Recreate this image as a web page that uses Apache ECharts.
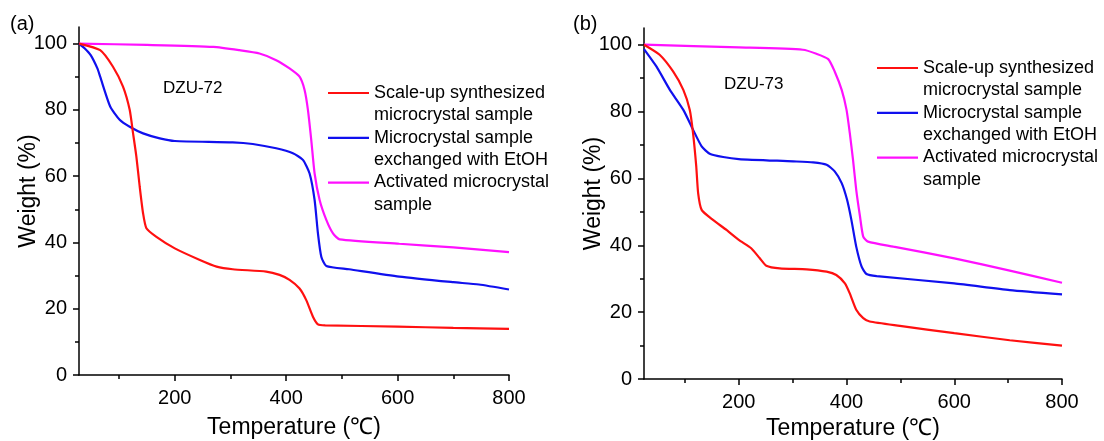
<!DOCTYPE html>
<html>
<head>
<meta charset="utf-8">
<script src="https://cdn.jsdelivr.net/npm/echarts@6/dist/echarts.min.js"></script>
<style>html,body{margin:0;padding:0;background:#fff}#c{width:1104px;height:441px}</style>
</head>
<body>
<div id="c"></div>
<script>
var seriesNames = ['Scale-up synthesized\nmicrocrystal sample', 'Microcrystal sample\nexchanged with EtOH', 'Activated microcrystal\nsample'];
var seriesColors = ['#ff1010', '#1010ee', '#ff10ff'];
var panelLabels = ['(a)', '(b)'];
var sampleLabels = ['DZU-72', 'DZU-73'];
var xLabelValues = [200, 400, 600, 800];
var xMinorValues = [100, 300, 500, 700];
var yLabelValues = [0, 20, 40, 60, 80, 100];
var yMinorValues = [10, 30, 50, 70, 90];

// Panel (a) DZU-72
var redA = [[28,100],[66,98],[89,93],[107,87],[119,80],[125,73],[131,65.9],[137,56.8],[143,48.8],[149,44.3],[167,41.7],[200,38.2],[245,34.7],[275,32.7],[304,31.9],[364,31.2],[388,30.2],[406,28.7],[424,26.1],[436,22.6],[448,17.6],[457,15.3],[470,15.0],[600,14.6],[700,14.2],[800,13.9]];
var blueA = [[28,100],[38,98.6],[49,96.5],[61,92.5],[66,90],[84,81],[101,77],[119,74.9],[143,72.9],[173,71.4],[200,70.6],[304,70.2],[340,69.7],[382,68.4],[412,66.9],[430,64.9],[442,60.8],[451,52.8],[457,42.7],[463,35.7],[472,32.9],[513,31.9],[603,29.7],[700,28.0],[746,27.3],[800,25.8]];
var magentaA = [[28,100],[150,99.6],[269,99],[316,98],[352,97],[382,95],[406,92.5],[424,90],[433,86],[439,80],[445,70.9],[451,60.8],[460,52.8],[472,46.8],[484,42.7],[496,40.9],[603,39.6],[700,38.5],[800,37.1]];

// Panel (b) DZU-73
var redB = [[24,100],[53,97],[78,92],[97,86.5],[109,80.5],[115,73.6],[121,63.6],[124.5,55.6],[131,50.6],[152,47.6],[177,44.6],[200,41.6],[223,39.1],[239,36.1],[251,33.9],[276,33.1],[326,32.8],[363,32.1],[381,31.1],[397,28.6],[406,25.6],[418,20.7],[431,18.2],[443,17.2],[499,15.9],[600,13.7],[703,11.6],[800,10.0]];
var blueB = [[24,98.7],[47,93.5],[72,86.5],[97,80.5],[115,74.6],[131,69.6],[146,67.4],[171,66.4],[200,65.8],[301,65.1],[338,64.8],[363,64.1],[378,62.1],[391,58.6],[401,53.6],[409,47.6],[418,39.6],[428,33.6],[437,31.4],[456,30.8],[600,28.6],[703,26.6],[800,25.3]];
var magentaB = [[24,100],[200,99.2],[319,98.5],[344,97.3],[366,95.7],[378,92],[391,86.5],[400,80.5],[406,73.6],[412,65.6],[418,56.6],[425,48.6],[431,42.6],[440,41.1],[487,39.6],[600,36.1],[703,32.4],[800,28.8]];

var panels = [
  {grid:{left:79, top:27, width:430, height:348, outerBoundsMode:'none', containLabel:false}, data:[redA, blueA, magentaA], xmin:28, xNameGap:41,
   legendX:328, legendY:93, labelPos:[10,14], samplePos:[163,80]},
  {grid:{left:644, top:28, width:418, height:351, outerBoundsMode:'none', containLabel:false}, data:[redB, blueB, magentaB], xmin:24, xNameGap:38,
   legendX:877, legendY:68, labelPos:[573,14], samplePos:[724,76]}
];

var FONT = 'Liberation Sans, Arial, Helvetica, sans-serif';
var grids = [], xAxes = [], yAxes = [], series = [], graphics = [];

panels.forEach(function(p, pi){
  grids.push(p.grid);
  var axisLine = {show:true, lineStyle:{color:'#000', width:1.5}};
  xAxes.push({type:'value', gridIndex:pi, min:p.xmin, max:800, position:'bottom',
    name:'Temperature (\u2103)', nameLocation:'middle', nameGap:p.xNameGap,
    nameTextStyle:{fontSize:23, color:'#000', fontFamily:FONT},
    axisLine:axisLine, splitLine:{show:false},
    axisTick:{show:true, inside:false, length:6, customValues:xLabelValues, lineStyle:{color:'#000', width:1.5}},
    axisLabel:{show:true, customValues:xLabelValues, fontSize:20, color:'#000', margin:13, fontFamily:FONT}
  });
  xAxes.push({type:'value', gridIndex:pi, min:p.xmin, max:800, position:'bottom', offset:0,
    axisLine:{show:false}, splitLine:{show:false}, axisLabel:{show:false},
    axisTick:{show:true, inside:false, length:4, customValues:xMinorValues, lineStyle:{color:'#000', width:1.5}}
  });
  yAxes.push({type:'value', gridIndex:pi, min:0, max:105, position:'left',
    name:'Weight (%)', nameLocation:'middle', nameGap:39, nameRotate:90, nameMoveOverlap:false,
    nameTextStyle:{fontSize:23, color:'#000', fontFamily:FONT, padding:[0,0,0,20]},
    axisLine:axisLine, splitLine:{show:false},
    axisTick:{show:true, inside:false, length:6, customValues:yLabelValues, lineStyle:{color:'#000', width:1.5}},
    axisLabel:{show:true, customValues:yLabelValues, fontSize:20, color:'#000', margin:12, fontFamily:FONT}
  });
  yAxes.push({type:'value', gridIndex:pi, min:0, max:105, position:'left', offset:0,
    axisLine:{show:false}, splitLine:{show:false}, axisLabel:{show:false},
    axisTick:{show:true, inside:false, length:4, customValues:yMinorValues, lineStyle:{color:'#000', width:1.5}}
  });
  p.data.forEach(function(d, si){
    series.push({type:'line', name:seriesNames[si] + pi, xAxisIndex:pi*2, yAxisIndex:pi*2,
      data:d, showSymbol:false, smooth:0.2, silent:true,
      lineStyle:{color:seriesColors[si], width:2.2}, z:4-si});
    graphics.push({type:'line', shape:{x1:p.legendX, y1:p.legendY + si*44.8, x2:p.legendX+41, y2:p.legendY + si*44.8},
      style:{stroke:seriesColors[si], lineWidth:2.2}});
    graphics.push({type:'text', x:p.legendX+46, y:p.legendY + si*44.8 - 11.4,
      style:{text:seriesNames[si], fontSize:18, lineHeight:22.4, fill:'#000', fontFamily:FONT, textVerticalAlign:'top'}});
  });
  graphics.push({type:'text', x:p.labelPos[0], y:p.labelPos[1],
    style:{text:panelLabels[pi], fontSize:20, fill:'#000', fontFamily:FONT}});
  graphics.push({type:'text', x:p.samplePos[0], y:p.samplePos[1],
    style:{text:sampleLabels[pi], fontSize:17, fill:'#000', fontFamily:FONT}});
});

var chart = echarts.init(document.getElementById('c'), null, {renderer:'canvas'});
chart.setOption({
  animation:false,
  backgroundColor:'#fff',
  grid:grids, xAxis:xAxes, yAxis:yAxes, series:series, graphic:graphics
});
</script>
</body>
</html>
